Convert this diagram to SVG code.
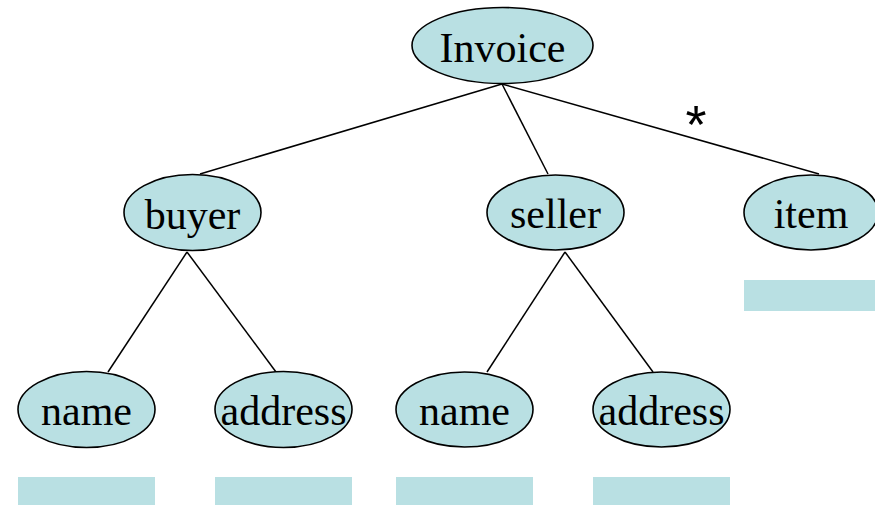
<svg xmlns="http://www.w3.org/2000/svg" width="875" height="505" viewBox="0 0 875 505">
  <style>
    .node { fill: #B9E0E3; stroke: #000; stroke-width: 1.6; }
    .slot { fill: #B9E0E3; }
    .label { font-family: "Liberation Serif", "Times New Roman", serif; font-size: 42px; text-anchor: middle; fill: #000; }
    .edge { stroke: #000; stroke-width: 1.5; fill: none; }
    .mult { font-family: "Liberation Sans", Arial, sans-serif; font-size: 54px; text-anchor: middle; fill: #000; }
  </style>
  <rect width="875" height="505" fill="#fff"/>

  <!-- tree edges -->
  <g id="connectors">
    <line class="edge" x1="502" y1="84" x2="200" y2="174"/>
    <line class="edge" x1="502" y1="84" x2="548" y2="174"/>
    <line class="edge" x1="502" y1="84" x2="819" y2="174"/>
    <line class="edge" x1="187" y1="252" x2="108" y2="372"/>
    <line class="edge" x1="187" y1="252" x2="276" y2="372"/>
    <line class="edge" x1="565" y1="252" x2="487" y2="372"/>
    <line class="edge" x1="565" y1="252" x2="653" y2="372"/>
    <text class="mult" x="696" y="143">*</text>
  </g>

  <g id="invoice">
    <ellipse class="node" cx="502.5" cy="45.5" rx="90.5" ry="38"/>
    <text class="label" x="502.5" y="62">Invoice</text>
  </g>

  <g id="buyer">
    <ellipse class="node" cx="192.5" cy="212.5" rx="68.5" ry="38"/>
    <text class="label" x="192.5" y="229">buyer</text>
  </g>

  <g id="seller">
    <ellipse class="node" cx="555.5" cy="212.5" rx="68.5" ry="37.5"/>
    <text class="label" x="555.5" y="228">seller</text>
  </g>

  <g id="item">
    <ellipse class="node" cx="811" cy="212.5" rx="67" ry="37.5"/>
    <text class="label" x="811" y="228">item</text>
    <rect class="slot" x="744" y="280" width="131" height="31"/>
  </g>

  <g id="buyer-name">
    <ellipse class="node" cx="86.5" cy="409.5" rx="68.5" ry="38"/>
    <text class="label" x="86.5" y="425">name</text>
    <rect class="slot" x="18" y="477" width="137" height="28"/>
  </g>

  <g id="buyer-address">
    <ellipse class="node" cx="283.5" cy="409.5" rx="68.5" ry="38"/>
    <text class="label" x="283.5" y="425">address</text>
    <rect class="slot" x="215" y="477" width="137" height="28"/>
  </g>

  <g id="seller-name">
    <ellipse class="node" cx="464.5" cy="409.5" rx="68.5" ry="37.5"/>
    <text class="label" x="464.5" y="425">name</text>
    <rect class="slot" x="396" y="477" width="137" height="28"/>
  </g>

  <g id="seller-address">
    <ellipse class="node" cx="661.5" cy="409.5" rx="68.5" ry="37.5"/>
    <text class="label" x="661.5" y="425">address</text>
    <rect class="slot" x="593" y="477" width="137" height="28"/>
  </g>
</svg>
